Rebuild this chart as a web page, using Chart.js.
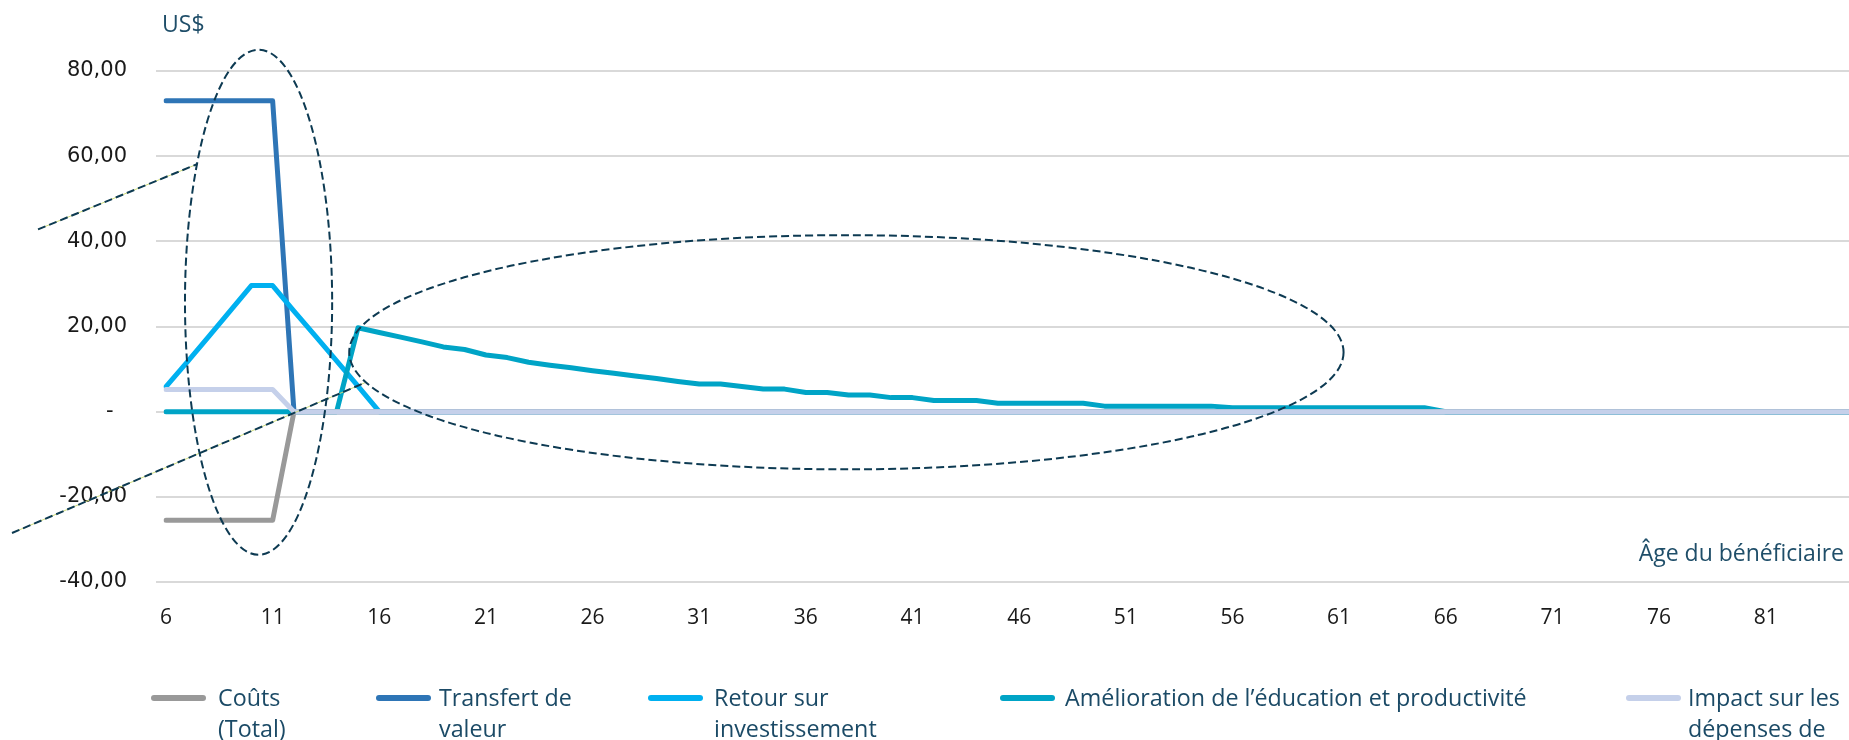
<!DOCTYPE html>
<html lang="fr">
<head>
<meta charset="utf-8">
<title>Flux par âge du bénéficiaire</title>
<script src="https://cdn.jsdelivr.net/npm/chart.js@4.4.1/dist/chart.umd.min.js"></script>
<style>
  html, body { margin: 0; padding: 0; background: #fff; }
  /* le dernier âge tombe juste au-delà du bord droit : le canvas déborde et est rogné */
  #wrap { position: relative; width: 1849px; height: 740px; overflow: hidden; }
  #chart { position: absolute; left: 0; top: 0; }
  .lg-line { position: absolute; top: 695px; height: 6px; border-radius: 3px; }
  .lg-text { position: absolute; top: 682px; font: 23.3px "Open Sans", sans-serif; line-height: 31px; color: #1b4a66; }
</style>
</head>
<body>
<div id="wrap">
  <canvas id="chart" width="1851" height="740"></canvas>
  <div id="legend"></div>
</div>
<script>
// ages du bénéficiaire (axe X)
const ages = [
  6, 7, 8, 9, 10, 11, 12, 13, 14, 15, 16, 17, 18, 19, 20, 21, 22, 23, 24, 25,
  26, 27, 28, 29, 30, 31, 32, 33, 34, 35, 36, 37, 38, 39, 40, 41, 42, 43, 44, 45,
  46, 47, 48, 49, 50, 51, 52, 53, 54, 55, 56, 57, 58, 59, 60, 61, 62, 63, 64, 65,
  66, 67, 68, 69, 70, 71, 72, 73, 74, 75, 76, 77, 78, 79, 80, 81, 82, 83, 84, 85
];
const tickAges = [6, 11, 16, 21, 26, 31, 36, 41, 46, 51, 56, 61, 66, 71, 76, 81];
const yTicks = [-40, -20, 0, 20, 40, 60, 80];

// US$ par âge
const couts = [
  -25.5, -25.5, -25.5, -25.5, -25.5, -25.5, 0, 0, 0, 0, 0, 0, 0, 0, 0, 0, 0, 0, 0, 0,
  0, 0, 0, 0, 0, 0, 0, 0, 0, 0, 0, 0, 0, 0, 0, 0, 0, 0, 0, 0,
  0, 0, 0, 0, 0, 0, 0, 0, 0, 0, 0, 0, 0, 0, 0, 0, 0, 0, 0, 0,
  0, 0, 0, 0, 0, 0, 0, 0, 0, 0, 0, 0, 0, 0, 0, 0, 0, 0, 0, 0
];
const transfert = [
  73, 73, 73, 73, 73, 73, 0, 0, 0, 0, 0, 0, 0, 0, 0, 0, 0, 0, 0, 0,
  0, 0, 0, 0, 0, 0, 0, 0, 0, 0, 0, 0, 0, 0, 0, 0, 0, 0, 0, 0,
  0, 0, 0, 0, 0, 0, 0, 0, 0, 0, 0, 0, 0, 0, 0, 0, 0, 0, 0, 0,
  0, 0, 0, 0, 0, 0, 0, 0, 0, 0, 0, 0, 0, 0, 0, 0, 0, 0, 0, 0
];
const retour = [
  5.9, 11.7, 17.6, 23.6, 29.6, 29.6, 23.6, 17.8, 11.9, 6.0, 0, 0, 0, 0, 0, 0, 0, 0, 0, 0,
  0, 0, 0, 0, 0, 0, 0, 0, 0, 0, 0, 0, 0, 0, 0, 0, 0, 0, 0, 0,
  0, 0, 0, 0, 0, 0, 0, 0, 0, 0, 0, 0, 0, 0, 0, 0, 0, 0, 0, 0,
  0, 0, 0, 0, 0, 0, 0, 0, 0, 0, 0, 0, 0, 0, 0, 0, 0, 0, 0, 0
];
const education = [
  0, 0, 0, 0, 0, 0, 0, 0, 0, 19.7, 18.6, 17.5, 16.4, 15.2, 14.6, 13.3, 12.7, 11.6, 10.9, 10.3,
  9.6, 9.0, 8.4, 7.8, 7.1, 6.5, 6.5, 5.9, 5.3, 5.3, 4.5, 4.5, 3.9, 3.9, 3.3, 3.3, 2.6, 2.6, 2.6, 2.0,
  2.0, 2.0, 2.0, 2.0, 1.3, 1.3, 1.3, 1.3, 1.3, 1.3, 0.9, 0.9, 0.9, 0.9, 0.9, 0.9, 0.9, 0.9, 0.9, 0.9,
  0, 0, 0, 0, 0, 0, 0, 0, 0, 0, 0, 0, 0, 0, 0, 0, 0, 0, 0, 0
];
const sante = [
  5.2, 5.2, 5.2, 5.2, 5.2, 5.2, 0, 0, 0, 0, 0, 0, 0, 0, 0, 0, 0, 0, 0, 0,
  0, 0, 0, 0, 0, 0, 0, 0, 0, 0, 0, 0, 0, 0, 0, 0, 0, 0, 0, 0,
  0, 0, 0, 0, 0, 0, 0, 0, 0, 0, 0, 0, 0, 0, 0, 0, 0, 0, 0, 0,
  0, 0, 0, 0, 0, 0, 0, 0, 0, 0, 0, 0, 0, 0, 0, 0, 0, 0, 0, 0
];

// annotations en pointillés (en unités des axes : âge, US$)
const ellipses = [
  { age: 10.34, usd: 25.7, dAge: 3.45, dUsd: 59.3 },
  { age: 37.9, usd: 13.95, dAge: 23.31, dUsd: 27.5 }
];
const pointers = [
  { from: [0.0, 42.8], to: [7.45, 58.1] },
  { from: [-1.22, -28.5], to: [15.33, 6.8] }
];

const navy = '#0d3a52';
const axisText = '#1f4e69';

const line = (label, data, color, order) => ({
  label, data, order,
  borderColor: color,
  backgroundColor: color,
  borderWidth: 5,
  pointRadius: 0,
  tension: 0,
  fill: false,
  borderJoinStyle: 'round',
  borderCapStyle: 'round'
});

const annotate = {
  id: 'annotate',
  afterDatasetsDraw(chart) {
    const { ctx, scales: { x, y } } = chart;
    const px = a => x.getPixelForValue(a - ages[0]);
    ctx.save();
    // traits de rappel
    pointers.forEach(p => {
      ctx.beginPath();
      ctx.moveTo(px(p.from[0]), y.getPixelForValue(p.from[1]));
      ctx.lineTo(px(p.to[0]), y.getPixelForValue(p.to[1]));
      ctx.setLineDash([]);
      ctx.lineWidth = 1;
      ctx.strokeStyle = '#cfdc7a';
      ctx.stroke();
      ctx.setLineDash([8, 4]);
      ctx.lineWidth = 2;
      ctx.strokeStyle = navy;
      ctx.stroke();
    });
    ctx.setLineDash([8, 4]);
    ctx.lineWidth = 2;
    ctx.strokeStyle = navy;
    ellipses.forEach(e => {
      const cx = px(e.age), cy = y.getPixelForValue(e.usd);
      const rx = Math.abs(px(e.age + e.dAge) - cx);
      const ry = Math.abs(y.getPixelForValue(e.usd + e.dUsd) - cy);
      ctx.beginPath();
      ctx.ellipse(cx, cy, rx, ry, 0, 0, Math.PI * 2);
      ctx.stroke();
    });
    ctx.restore();
  },
  afterDraw(chart) {
    const { ctx, chartArea } = chart;
    ctx.save();
    ctx.fillStyle = axisText;
    ctx.font = '23px "Open Sans"';
    ctx.textBaseline = 'middle';
    ctx.textAlign = 'left';
    ctx.fillText('US$', chartArea.left - 4, chartArea.top - 46);
    ctx.textAlign = 'right';
    ctx.fillText('Âge du bénéficiaire', chartArea.right - 7, chartArea.bottom - 28);
    ctx.restore();
  }
};

const chart = new Chart(document.getElementById('chart'), {
  type: 'line',
  data: {
    labels: ages,
    datasets: [
      line('Coûts (Total)', couts, '#999999', 1),
      line('Transfert de valeur', transfert, '#2e75b6', 4),
      line('Retour sur investissement', retour, '#00b0f0', 3),
      line('Amélioration de l’éducation et productivité', education, '#00a4c6', 2),
      line('Impact sur les dépenses de', sante, '#c5d0ea', 0)
    ]
  },
  options: {
    responsive: false,
    animation: false,
    devicePixelRatio: 1,
    layout: { padding: { top: 71, left: 0, right: 0, bottom: 0 } },
    plugins: { legend: { display: false }, tooltip: { enabled: false } },
    scales: {
      x: {
        grid: { display: false, drawTicks: false },
        border: { display: false },
        afterFit(s) { s.height = 158; s.paddingLeft = 0; s.paddingRight = 0; },
        ticks: {
          autoSkip: false,
          maxRotation: 0,
          padding: 23,
          color: '#1a1a1a',
          font: { family: 'Open Sans', size: 21 },
          callback(v, i) { return tickAges.includes(ages[i]) ? String(ages[i]) : ''; }
        }
      },
      y: {
        min: yTicks[0],
        max: yTicks[yTicks.length - 1],
        afterFit(s) { s.width = 166; },
        afterBuildTicks(s) { s.ticks = yTicks.map(v => ({ value: v })); },
        grid: { color: '#d9d9d9', lineWidth: 2, drawTicks: true, tickLength: 10, tickColor: '#d9d9d9' },
        border: { display: false },
        ticks: {
          padding: 29,
          color: '#1a1a1a',
          font: { family: 'DejaVu Sans', size: 21 },
          callback(v) { return v === 0 ? '-  ' : v.toFixed(2).replace('.', ','); }
        }
      }
    }
  },
  plugins: [annotate]
});

// légende HTML (libellés sur plusieurs lignes)
const legendLayout = [
  { line: 151, text: 218, width: 100 },
  { line: 376, text: 439, width: 155 },
  { line: 648, text: 714, width: 180 },
  { line: 1000, text: 1065, width: 540 },
  { line: 1626, text: 1688, width: 155 }
];
const legend = document.getElementById('legend');
chart.data.datasets.forEach((ds, i) => {
  const pos = legendLayout[i];
  const l = document.createElement('div');
  l.className = 'lg-line';
  l.style.left = pos.line + 'px';
  l.style.width = '55px';
  l.style.background = ds.borderColor;
  const t = document.createElement('div');
  t.className = 'lg-text';
  t.style.left = pos.text + 'px';
  t.style.width = pos.width + 'px';
  t.textContent = ds.label;
  legend.appendChild(l);
  legend.appendChild(t);
});
</script>
</body>
</html>
